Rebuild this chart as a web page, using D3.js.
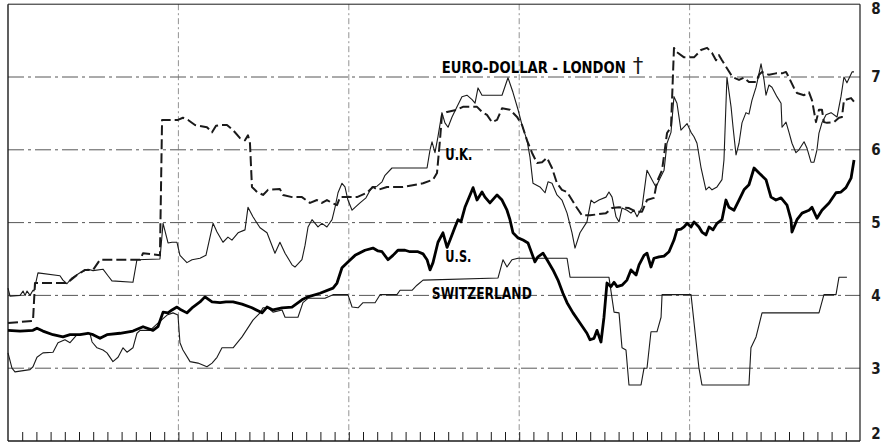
<!DOCTYPE html>
<html><head><meta charset="utf-8">
<script src="https://cdn.jsdelivr.net/npm/d3@7"></script>
<style>
html,body{margin:0;padding:0;background:#fff;}
svg{display:block;}
</style></head>
<body>
<svg id="chart" width="889" height="444"></svg>
<script>
// Data: [month index from start of period, interest rate %]
const euroDollar = [[0,4.10],[0.14,3.99],[0.85,4.0],[1.06,4.06],[1.2,4.0],[1.34,4.06],[1.55,4.0],[1.76,4.07],[1.83,4.06],[2.11,4.31],[3.66,4.27],[3.87,4.21],[4.15,4.16],[4.5,4.24],[5.07,4.31],[5.63,4.36],[5.99,4.34],[6.69,4.36],[7.04,4.27],[7.32,4.20],[8.8,4.18],[9.08,4.49],[10.7,4.5],[10.92,4.99],[11.27,4.72],[11.55,4.73],[11.9,4.73],[12.11,4.55],[12.6,4.45],[12.96,4.49],[13.52,4.51],[13.94,4.55],[14.44,4.99],[14.72,4.87],[15.14,4.73],[15.49,4.80],[15.77,4.76],[16.2,4.86],[16.69,4.90],[16.9,5.21],[17.25,5.08],[17.75,4.93],[18.24,4.86],[18.8,4.58],[19.15,4.73],[19.51,4.58],[20.0,4.42],[20.21,4.39],[20.7,4.49],[20.92,4.69],[21.13,4.94],[21.41,5.04],[21.83,4.94],[22.11,4.99],[22.46,4.94],[22.82,5.04],[23.03,5.21],[23.24,5.41],[23.52,5.54],[23.73,5.49],[23.94,5.31],[24.23,5.17],[24.44,5.21],[24.79,5.27],[25.21,5.34],[25.63,5.49],[25.99,5.50],[26.34,5.56],[26.55,5.65],[27.04,5.75],[29.51,5.75],[29.72,6.0],[29.86,6.11],[30.07,5.96],[30.28,6.18],[30.56,6.51],[30.77,6.37],[30.99,6.31],[31.27,6.45],[31.62,6.59],[31.97,6.73],[32.32,6.75],[32.68,6.69],[32.89,6.64],[33.1,6.85],[33.38,6.75],[34.79,6.75],[35.21,6.99],[35.56,6.79],[35.92,6.55],[36.2,6.34],[36.55,6.13],[36.76,5.90],[36.97,5.54],[37.46,5.49],[37.82,5.41],[38.03,5.56],[38.31,5.54],[38.66,5.38],[39.01,5.31],[39.37,5.13],[39.72,4.86],[39.93,4.65],[40.28,4.86],[40.77,5.01],[41.06,5.31],[41.27,5.27],[41.62,5.31],[42.11,5.35],[42.32,5.42],[42.54,5.35],[42.82,5.08],[43.03,5.01],[43.24,5.20],[43.59,5.17],[43.87,5.13],[44.08,5.17],[44.3,5.08],[44.65,5.21],[45.0,5.72],[45.35,5.59],[45.63,5.49],[45.92,5.61],[46.2,5.72],[46.41,6.09],[46.69,6.24],[46.9,6.73],[47.11,6.64],[47.39,6.27],[47.82,6.36],[48.1,6.24],[48.31,6.18],[48.52,6.09],[48.8,5.76],[49.15,5.45],[49.37,5.49],[49.58,5.45],[49.93,5.49],[50.28,5.59],[50.42,5.86],[50.63,7.0],[50.92,6.59],[51.06,6.31],[51.27,5.93],[51.48,6.09],[51.69,6.37],[51.97,6.51],[52.18,6.49],[52.39,6.68],[52.68,6.86],[52.89,7.05],[53.03,7.18],[53.24,6.96],[53.38,6.75],[53.59,6.89],[53.8,6.86],[54.15,6.73],[54.44,6.64],[54.51,6.31],[54.79,6.38],[55.0,6.24],[55.21,6.09],[55.49,5.96],[55.7,6.0],[56.06,6.11],[56.27,6.02],[56.55,5.83],[56.76,5.83],[56.97,6.0],[57.11,6.23],[57.32,6.37],[57.61,6.48],[57.96,6.51],[58.38,6.45],[58.66,6.73],[58.87,7.0],[59.08,6.92],[59.44,7.07],[59.58,7.07]];

const unitedKingdom = [[0,3.62],[1.76,3.65],[1.9,4.17],[4.15,4.17],[4.86,4.28],[5.42,4.35],[5.99,4.35],[6.48,4.49],[9.3,4.49],[9.51,4.58],[10.7,4.55],[10.85,6.41],[11.97,6.41],[12.32,6.44],[12.68,6.41],[13.17,6.34],[14.01,6.31],[14.37,6.24],[14.65,6.33],[14.93,6.34],[15.42,6.34],[15.85,6.27],[16.34,6.16],[16.69,6.13],[16.9,6.20],[17.04,6.09],[17.18,5.49],[17.54,5.42],[17.96,5.38],[18.31,5.45],[19.15,5.46],[19.37,5.38],[20.0,5.35],[20.7,5.35],[21.27,5.27],[21.76,5.31],[22.11,5.27],[22.46,5.31],[22.82,5.27],[23.17,5.24],[23.38,5.35],[24.58,5.35],[25.28,5.41],[25.7,5.49],[26.06,5.45],[26.69,5.49],[27.82,5.49],[29.23,5.54],[29.93,5.59],[30.21,5.68],[30.42,6.13],[30.56,6.48],[30.92,6.52],[31.62,6.55],[32.04,6.59],[33.03,6.59],[33.38,6.52],[33.73,6.48],[34.08,6.38],[34.44,6.41],[34.79,6.57],[35.35,6.55],[35.85,6.45],[36.2,6.34],[36.55,6.13],[36.9,5.96],[37.25,5.82],[37.61,5.83],[37.96,5.89],[38.31,5.75],[38.66,5.54],[39.01,5.45],[39.37,5.42],[39.72,5.31],[40.07,5.20],[40.42,5.10],[40.99,5.10],[42.11,5.13],[42.54,5.20],[43.03,5.21],[43.73,5.20],[44.23,5.15],[44.65,5.15],[45.0,5.31],[45.49,5.34],[45.7,5.56],[46.06,5.72],[46.41,6.23],[46.69,6.31],[46.9,7.40],[47.11,7.34],[47.61,7.27],[48.31,7.27],[48.8,7.37],[49.23,7.40],[49.58,7.33],[49.86,7.23],[50.07,7.30],[50.28,7.23],[50.63,7.12],[50.92,7.03],[51.13,6.99],[51.48,6.96],[51.83,6.99],[52.18,6.93],[52.68,6.93],[52.89,7.03],[53.1,7.07],[53.59,7.03],[54.08,7.05],[54.51,7.05],[54.79,7.07],[55.0,6.99],[55.35,6.85],[55.56,6.78],[56.06,6.75],[56.41,6.79],[56.62,6.68],[56.9,6.38],[57.11,6.55],[57.32,6.55],[57.46,6.38],[57.68,6.37],[58.17,6.38],[58.52,6.44],[58.73,6.45],[58.87,6.68],[59.37,6.71],[59.58,6.66]];

const unitedStates = [[0,3.52],[0.85,3.51],[1.76,3.52],[2.04,3.55],[2.46,3.51],[3.17,3.46],[3.87,3.43],[4.37,3.46],[5.07,3.46],[5.63,3.48],[5.99,3.46],[6.48,3.41],[6.97,3.46],[7.89,3.48],[8.8,3.51],[9.51,3.57],[10.21,3.52],[10.56,3.57],[10.92,3.77],[11.27,3.76],[11.55,3.80],[11.9,3.84],[12.11,3.81],[12.6,3.76],[13.03,3.84],[13.52,3.91],[13.87,3.98],[14.37,3.91],[14.93,3.90],[15.35,3.91],[15.85,3.91],[16.48,3.88],[17.18,3.83],[17.89,3.76],[18.24,3.84],[18.66,3.80],[19.3,3.83],[20.0,3.84],[20.7,3.94],[21.13,3.98],[21.97,4.03],[22.89,4.10],[23.17,4.17],[23.52,4.38],[23.94,4.46],[24.44,4.55],[25.14,4.62],[25.7,4.65],[26.06,4.61],[26.34,4.60],[26.76,4.49],[27.11,4.55],[27.46,4.62],[27.96,4.62],[28.31,4.60],[28.87,4.60],[29.23,4.57],[29.51,4.49],[29.72,4.35],[29.93,4.45],[30.28,4.73],[30.63,4.86],[30.92,4.66],[31.13,4.76],[31.48,4.94],[31.69,5.04],[31.9,5.01],[32.18,5.21],[32.54,5.38],[32.75,5.48],[33.03,5.31],[33.38,5.42],[33.59,5.35],[33.94,5.27],[34.44,5.38],[34.79,5.31],[35.14,5.17],[35.35,5.04],[35.56,4.86],[35.92,4.79],[36.27,4.76],[36.62,4.72],[37.11,4.46],[37.32,4.53],[37.68,4.58],[37.96,4.49],[38.38,4.35],[38.73,4.21],[39.08,4.03],[39.37,3.90],[39.79,3.76],[40.28,3.62],[40.77,3.48],[40.99,3.39],[41.27,3.41],[41.48,3.52],[41.76,3.36],[41.97,3.70],[42.18,4.17],[42.46,4.12],[42.68,4.18],[42.89,4.12],[43.24,4.14],[43.59,4.21],[43.87,4.35],[44.23,4.28],[44.44,4.42],[44.79,4.55],[45.0,4.58],[45.28,4.39],[45.49,4.51],[45.85,4.53],[46.2,4.54],[46.55,4.60],[46.9,4.76],[47.11,4.90],[47.39,4.91],[47.61,4.94],[47.82,4.99],[48.1,4.94],[48.31,5.01],[48.66,4.94],[48.87,4.87],[49.15,4.83],[49.37,4.94],[49.65,4.90],[49.93,4.99],[50.28,5.04],[50.56,5.31],[50.77,5.21],[51.13,5.17],[51.48,5.31],[51.83,5.45],[52.18,5.52],[52.54,5.75],[52.89,5.68],[53.38,5.59],[53.73,5.35],[54.08,5.31],[54.44,5.34],[54.86,5.24],[55.14,5.04],[55.21,4.87],[55.56,5.04],[55.92,5.13],[56.41,5.17],[56.62,5.21],[56.97,5.06],[57.32,5.17],[57.82,5.27],[58.31,5.41],[58.66,5.42],[59.01,5.48],[59.37,5.61],[59.58,5.86]];

const switzerland = [[0,3.21],[0.28,3.0],[0.49,2.95],[1.55,2.98],[1.76,3.02],[2.04,3.15],[2.46,3.21],[3.17,3.22],[3.52,3.35],[4.01,3.39],[4.37,3.35],[4.86,3.46],[5.77,3.48],[5.92,3.36],[6.27,3.28],[6.69,3.25],[6.97,3.21],[7.39,3.09],[7.75,3.15],[8.1,3.28],[8.38,3.22],[8.8,3.28],[9.08,3.48],[9.3,3.52],[10.0,3.52],[10.56,3.62],[11.2,3.73],[11.62,3.76],[11.97,3.73],[12.11,3.35],[12.32,3.25],[12.82,3.09],[13.38,3.07],[14.01,3.02],[14.37,3.07],[14.72,3.15],[15.07,3.28],[15.85,3.28],[16.48,3.43],[17.25,3.66],[17.75,3.76],[17.96,3.83],[18.31,3.83],[18.66,3.77],[19.3,3.80],[19.51,3.70],[20.42,3.70],[20.77,3.90],[21.13,3.96],[22.32,3.96],[22.89,4.01],[23.94,4.01],[24.23,3.84],[24.65,3.83],[25.0,3.90],[25.85,3.90],[26.2,4.01],[27.39,4.01],[27.61,4.07],[28.45,4.07],[28.8,4.14],[29.23,4.21],[34.51,4.24],[34.86,4.49],[35.14,4.39],[35.49,4.49],[35.92,4.51],[39.37,4.51],[39.58,4.25],[42.32,4.25],[42.68,3.77],[43.03,3.76],[43.24,3.28],[43.52,3.25],[43.73,2.77],[44.58,2.77],[44.79,3.0],[45.0,3.0],[45.28,3.50],[45.7,3.50],[45.99,3.70],[46.06,4.01],[48.1,4.01],[48.66,3.0],[48.87,2.77],[52.18,2.77],[52.32,3.28],[52.68,3.43],[53.1,3.76],[57.11,3.76],[57.46,4.01],[58.31,4.01],[58.52,4.25],[59.08,4.25]];

const rateTicks = [2, 3, 4, 5, 6, 7, 8];
const rateLabels = ["2", "3", "4", "5", "6", "7", "8"];
const yearBoundaries = [12, 24, 36, 48];
const monthTicks = d3.range(1, 60);

const seriesLabels = [
  {text: "EURO-DOLLAR - LONDON", m: 30.55, v: 7.05, len: 184, size: 15},
  {text: "U.K.", m: 30.8, v: 5.86, len: 27, size: 15},
  {text: "U.S.", m: 30.8, v: 4.46, len: 26, size: 15},
  {text: "SWITZERLAND", m: 29.85, v: 3.95, len: 100, size: 16}
];

const svg = d3.select("#chart");
const x = d3.scaleLinear().domain([0, 60]).range([8, 860]);
const y = d3.scaleLinear().domain([2, 8]).range([441, 4.2]);
const ink = "#1a1a1a";

// horizontal grid (dash-dot)
svg.append("g").selectAll("line").data(rateTicks.filter(v => v > 2 && v < 8)).join("line")
  .attr("x1", x(0)).attr("x2", x(60))
  .attr("y1", d => y(d)).attr("y2", d => y(d))
  .attr("stroke", "#444").attr("stroke-width", 0.9)
  .attr("stroke-dasharray", "16,4,3,4");

// vertical grid (year boundaries)
svg.append("g").selectAll("line").data(yearBoundaries).join("line")
  .attr("x1", d => x(d)).attr("x2", d => x(d))
  .attr("y1", y(8)).attr("y2", y(2))
  .attr("stroke", "#777").attr("stroke-width", 0.8)
  .attr("stroke-dasharray", "6,3,2,3");

// frame
svg.append("line").attr("x1", x(0)).attr("x2", x(0)).attr("y1", y(8)).attr("y2", y(2)).attr("stroke", ink).attr("stroke-width", 1.4);
svg.append("line").attr("x1", x(60)).attr("x2", x(60)).attr("y1", y(8)).attr("y2", y(2)).attr("stroke", ink).attr("stroke-width", 1.2);
svg.append("line").attr("x1", x(0)).attr("x2", x(60)).attr("y1", y(8)).attr("y2", y(8)).attr("stroke", ink).attr("stroke-width", 1);
svg.append("line").attr("x1", x(0)).attr("x2", x(60)).attr("y1", y(2)).attr("y2", y(2)).attr("stroke", ink).attr("stroke-width", 1.4);

// monthly ticks on bottom
const xAxis = svg.append("g").attr("transform", `translate(0,${y(2)})`)
  .call(d3.axisTop(x).tickValues(monthTicks).tickSize(9).tickFormat(""));
xAxis.select(".domain").remove();
xAxis.selectAll(".tick line").attr("stroke", ink).attr("stroke-width", 1);

// right axis labels
svg.append("g").selectAll("text").data(rateTicks).join("text")
  .attr("x", 876)
  .attr("y", d => Math.max(9, Math.min(434, y(d))))
  .attr("dy", "0.36em")
  .attr("text-anchor", "middle")
  .attr("font-family", "'DejaVu Sans Condensed', 'DejaVu Sans', sans-serif")
  .attr("font-weight", "bold").attr("font-size", 15).attr("fill", ink)
  .text((d, i) => rateLabels[i]);

// lines
const line = d3.line().x(d => x(d[0])).y(d => y(d[1]));
svg.append("path").datum(switzerland).attr("d", line)
  .attr("fill", "none").attr("stroke", ink).attr("stroke-width", 1.1).attr("stroke-linejoin", "round");
svg.append("path").datum(euroDollar).attr("d", line)
  .attr("fill", "none").attr("stroke", ink).attr("stroke-width", 1.1).attr("stroke-linejoin", "round");
svg.append("path").datum(unitedKingdom).attr("d", line)
  .attr("fill", "none").attr("stroke", ink).attr("stroke-width", 2)
  .attr("stroke-dasharray", "10,4").attr("stroke-linejoin", "round");
svg.append("path").datum(unitedStates).attr("d", line)
  .attr("fill", "none").attr("stroke", "#000").attr("stroke-width", 2.8).attr("stroke-linejoin", "round");

// series labels
svg.append("g").selectAll("text").data(seriesLabels).join("text")
  .attr("x", d => x(d.m)).attr("y", d => y(d.v))
  .attr("font-family", "'DejaVu Sans Condensed', 'DejaVu Sans', sans-serif")
  .attr("font-weight", "bold").attr("font-size", d => d.size).attr("fill", "#000")
  .attr("textLength", d => d.len).attr("lengthAdjust", "spacingAndGlyphs")
  .text(d => d.text);
svg.append("text")
  .attr("x", x(30.55) + 191).attr("y", y(7.06))
  .attr("font-family", "'DejaVu Sans', sans-serif").attr("font-size", 21).attr("fill", ink)
  .text("\u2020");
</script>
</body></html>
